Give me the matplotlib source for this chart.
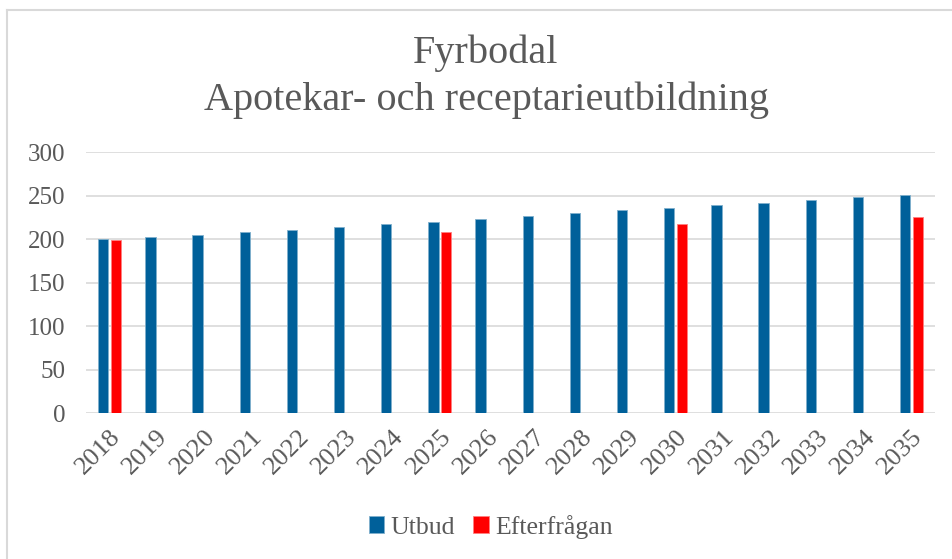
import matplotlib.pyplot as plt
import numpy as np
from matplotlib.lines import Line2D

# years and projected number of trained pharmacists
years = ['2018', '2019', '2020', '2021', '2022', '2023', '2024', '2025', '2026',
         '2027', '2028', '2029', '2030', '2031', '2032', '2033', '2034', '2035']
utbud = [200, 202, 205, 208, 210, 214, 217, 220, 223,
         227, 230, 233, 236, 239, 242, 245, 248, 251]
# demand only given for some years
efterfragan = [199, None, None, None, None, None, None, 208, None,
               None, None, None, 217, None, None, None, None, 225]

blue = '#00609A'
red = '#FF0000'
text_col = '#595959'

plt.rcParams['font.family'] = ['Liberation Serif', 'DejaVu Serif']

fig = plt.figure(figsize=(9.53, 5.59), dpi=100)
ax = fig.add_axes([0.0902, 0.261, 0.891, 0.467])

x = np.arange(len(years))
w = 0.22
ax.bar(x - 0.135, utbud, width=w, color=blue, edgecolor='#7fb0cc', linewidth=0.6,
       label='Utbud', zorder=3)
ex = [i for i, v in enumerate(efterfragan) if v is not None]
ev = [v for v in efterfragan if v is not None]
ax.bar(np.array(ex) + 0.135, ev, width=w, color=red, edgecolor='#ff8080', linewidth=0.6,
       label='Efterfrågan', zorder=3)

ax.set_ylim(0, 300)
ax.set_xlim(-0.5, len(years) - 0.5)
ax.set_yticks(range(0, 301, 50))
ax.yaxis.grid(True, color='#D9D9D9', linewidth=1.2, zorder=0)
ax.set_xticks(x)
ax.set_xticklabels(years, rotation=45, ha='right', rotation_mode='anchor')
ax.tick_params(axis='y', length=0, labelsize=18, colors=text_col, pad=15)
ax.tick_params(axis='x', length=0, labelsize=19, colors=text_col, pad=9)
for s in ax.spines.values():
    s.set_visible(False)

fig.text(0.51, 0.905, 'Fyrbodal', ha='center', va='center', fontsize=29, color=text_col)
fig.text(0.51, 0.82, 'Apotekar- och receptarieutbildning', ha='center', va='center',
         fontsize=29, color=text_col)

leg = fig.legend(loc='center', bbox_to_anchor=(0.515, 0.058), ncol=2, frameon=False,
                 fontsize=18.5, handlelength=0.6, handleheight=0.6, handletextpad=0.25,
                 columnspacing=0.7, labelcolor=text_col)

# chart area frame, visible on the top and left edges
fig.add_artist(Line2D([7 / 953, 1], [1 - 10 / 559, 1 - 10 / 559], transform=fig.transFigure,
                      color='#D9D9D9', linewidth=1.5))
fig.add_artist(Line2D([7 / 953, 7 / 953], [0, 1 - 10 / 559], transform=fig.transFigure,
                      color='#D9D9D9', linewidth=1.5))

fig.savefig('out.png', dpi=100)
